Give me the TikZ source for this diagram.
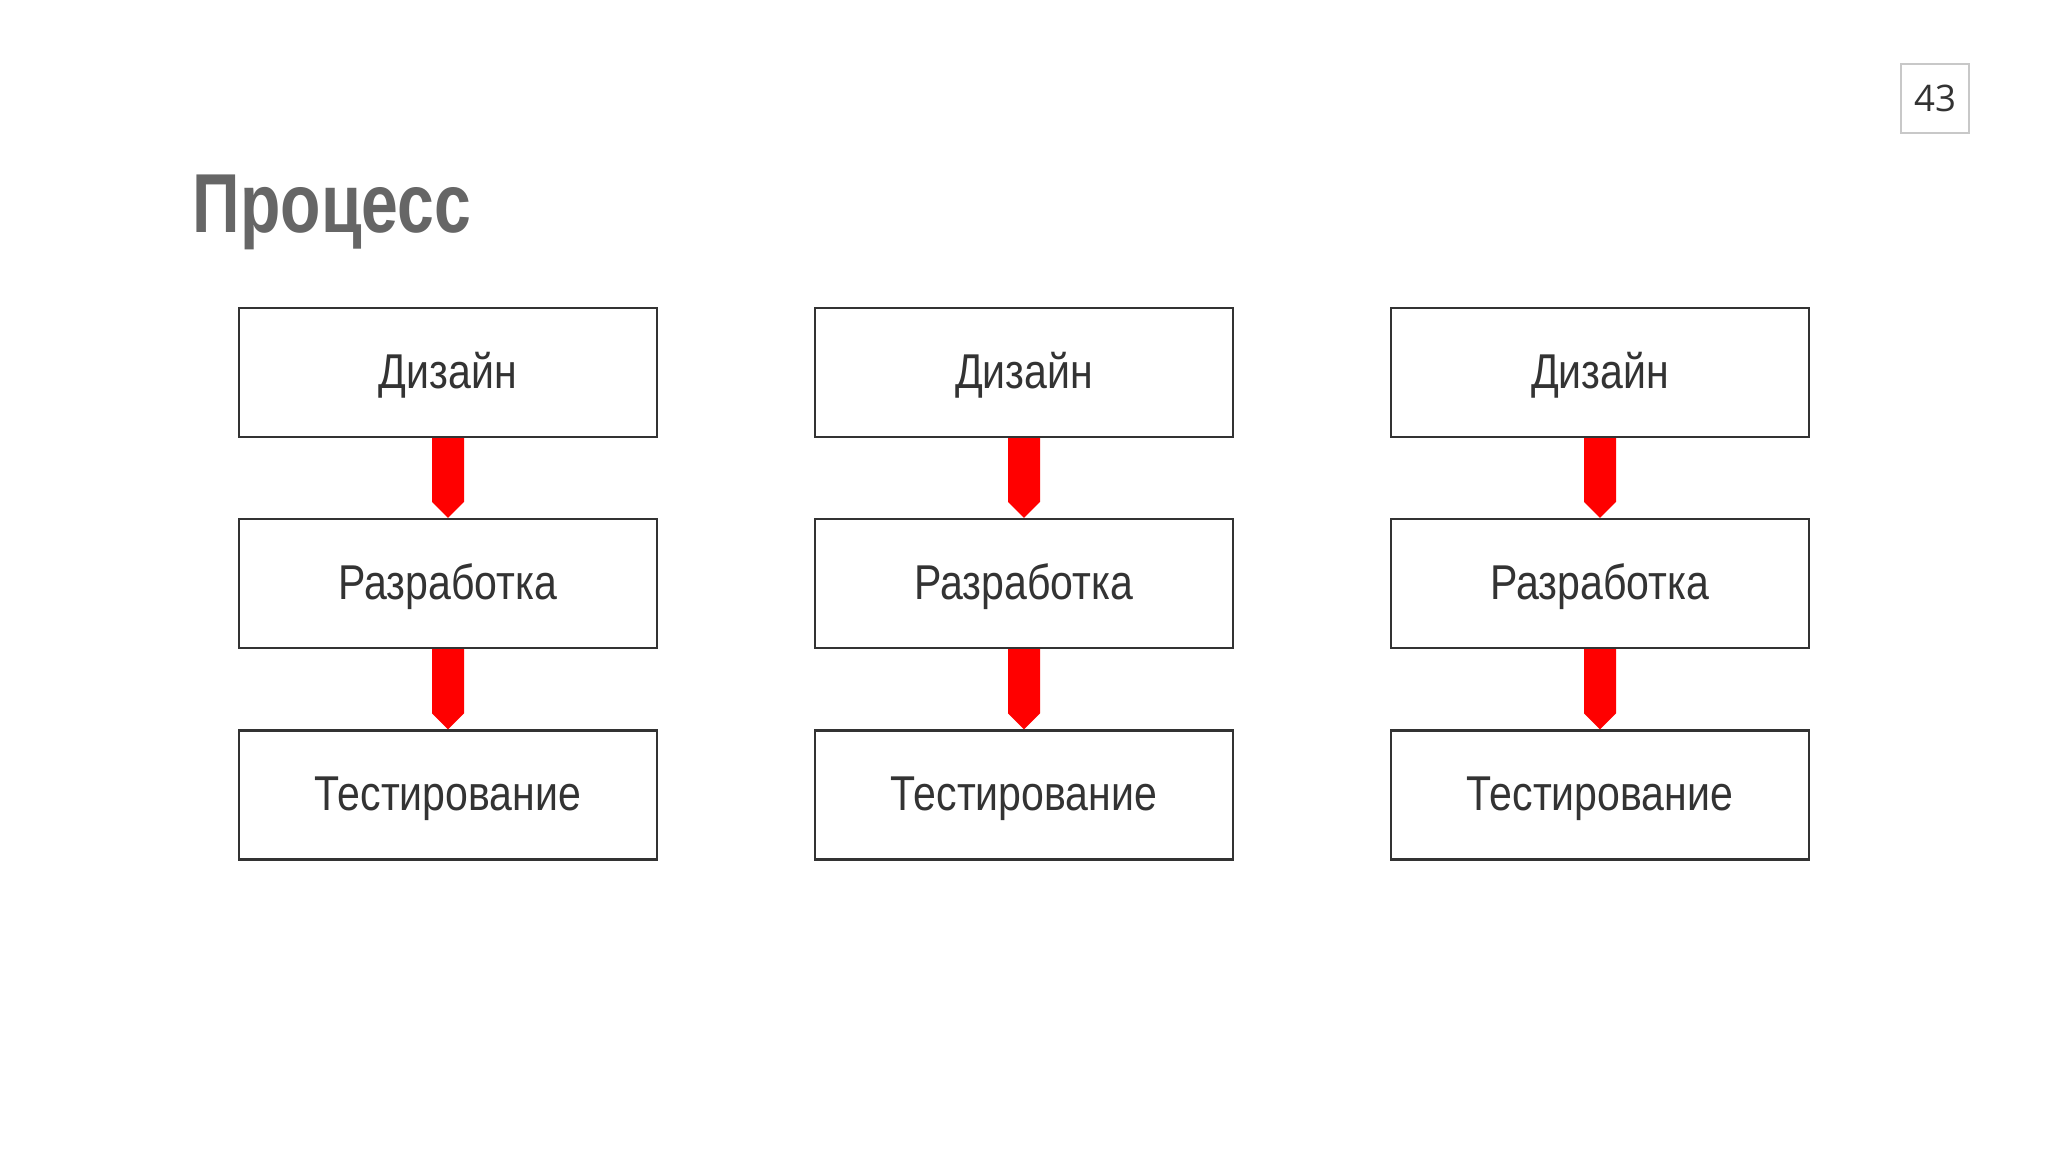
\documentclass[tikz,border=0pt]{standalone}
\usepackage{fontspec}
\setmainfont{Liberation Sans}
\newfontfamily\titlefont[FakeStretch=0.79]{Liberation Sans}
\newfontfamily\bodyfont[FakeStretch=0.84]{Liberation Sans}
\newfontfamily\numfont{Open Sans}
\usetikzlibrary{calc}
\definecolor{titlegray}{HTML}{666666}
\definecolor{textdark}{HTML}{333333}
\definecolor{pagegray}{HTML}{C8C8C8}
\definecolor{arrowred}{HTML}{FF0000}
\tikzset{
  stepbox/.style={draw=textdark, line width=0.6pt, fill=white, minimum width=4.18cm, minimum height=1.29cm, inner sep=0pt, text height=0.4cm, text depth=0.09cm, font=\bodyfont\fontsize{13.9pt}{16pt}\selectfont, text=textdark},
  blockarrow/.style={fill=arrowred, draw=none},
  pagebox/.style={draw=pagegray, line width=0.4pt, minimum width=0.68cm, minimum height=0.69cm, inner sep=0pt, font=\numfont\fontsize{10.4pt}{12pt}\selectfont, text=textdark},
  titletext/.style={anchor=base west, inner sep=0pt, font=\titlefont\bfseries\fontsize{23.8pt}{28pt}\selectfont, text=titlegray}
}
\begin{document}
\begin{tikzpicture}[x=0.01cm, y=-0.01cm]
\useasboundingbox[fill=white] (0,0) rectangle (2048,1152);
\node[titletext] (title) at (192,233) {Процесс};
\node[pagebox] (page) at (1935,98.5) {43};
\foreach \c/\cx in {a/448, b/1024, c/1600} {
  \node[stepbox] (\c1) at (\cx,372.5) {Дизайн};
  \node[stepbox] (\c2) at (\cx,583.5) {Разработка};
  \node[stepbox] (\c3) at (\cx,795) {Тестирование};
  \foreach \u/\v in {1/2, 2/3} {
    \fill[blockarrow] ($(\c\u.south)+(-16,0)$) -- ($(\c\u.south)+(16,0)$) -- ($(\c\v.north)+(16,-16)$) -- (\c\v.north) -- ($(\c\v.north)+(-16,-16)$) -- cycle;
  }
}
\end{tikzpicture}
\end{document}
